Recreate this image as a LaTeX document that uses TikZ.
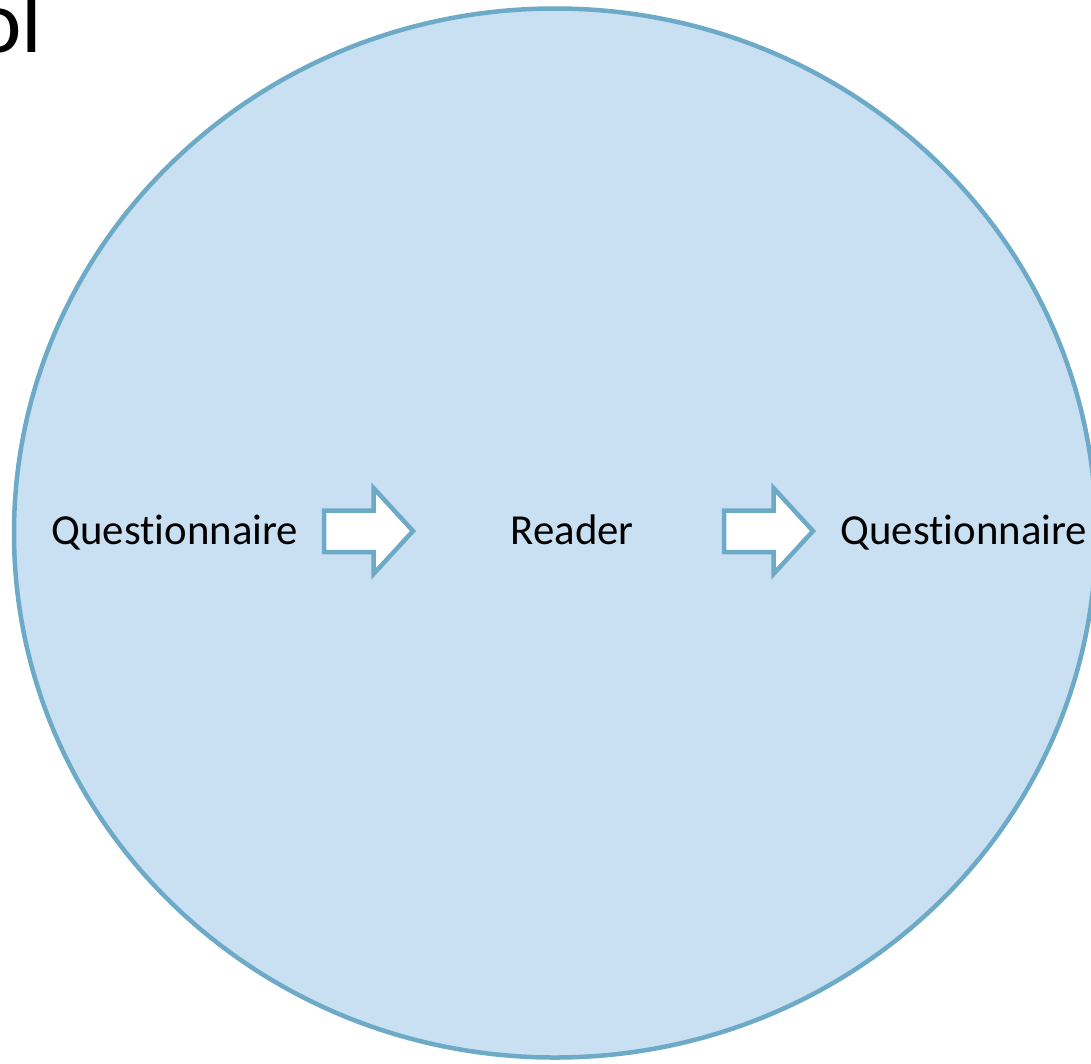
\documentclass[tikz,border=0pt]{standalone}
\usepackage{fontspec}
\setmainfont{Carlito}[RawFeature=-liga]
\definecolor{cfill}{RGB}{201,224,243}
\definecolor{cline}{RGB}{108,170,199}
\begin{document}
\begin{tikzpicture}[x=1pt,y=-1pt,
  lbl/.style={anchor=base west,inner sep=0pt,font=\fontsize{42.8}{50}\selectfont,text=black},
  blockarrow/.pic={\draw[cline,line width=4.5pt,fill=white,line join=miter]
     (0,-20.5) -- (49.5,-20.5) -- (49.5,-43) -- (89,0) -- (49.5,43) -- (49.5,21) -- (0,21) -- cycle;}]
\useasboundingbox (0,0) rectangle (1091,1063);
\draw[cline,line width=4.5pt,fill=cfill] (555,533) ellipse [x radius=541, y radius=524.5];
\node[anchor=base west,inner sep=0pt,font=\fontsize{90}{100}\selectfont] (title) at (-26,52) {ol};
\node[lbl] (q1) at (51.5,544.5) {Questionnaire};
\node[lbl] (rd) at (510.5,544.5) {Reader};
\node[lbl] (q2) at (840.5,544.5) {Questionnaire};
\pic at (324,531) {blockarrow};
\pic at (724,531) {blockarrow};
\end{tikzpicture}
\end{document}
